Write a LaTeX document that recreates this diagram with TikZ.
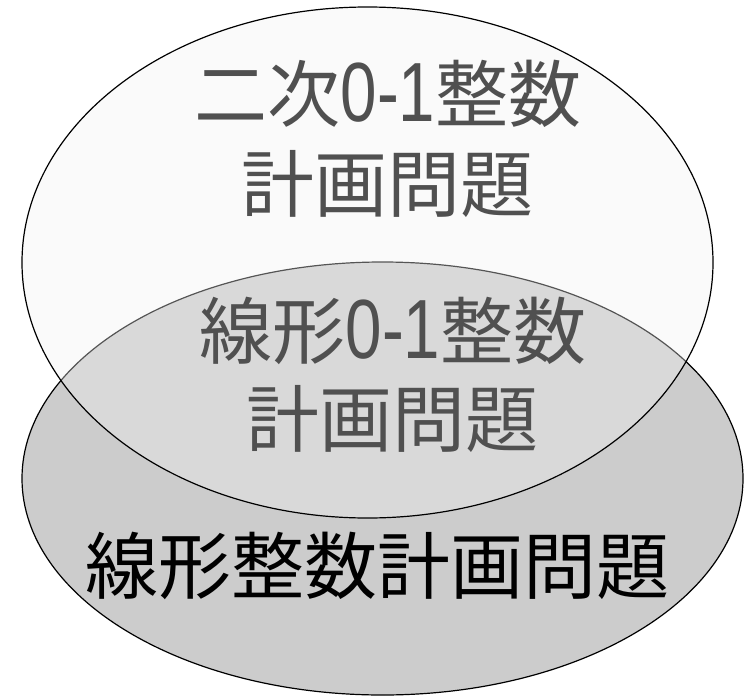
\documentclass[tikz,border=0pt]{standalone}
\usepackage{fontspec}
\usetikzlibrary{shapes.geometric}
\newfontfamily\jp{Noto Sans CJK JP}
\newfontfamily\latn[FakeStretch=0.78]{Liberation Sans}
\definecolor{txtgray}{RGB}{80,80,80}
\definecolor{setfillB}{RGB}{204,204,204}
\definecolor{setfillA}{RGB}{241,241,241}
\newcommand{\dig}[1]{{\latn\fontsize{84pt}{84pt}\selectfont #1}}
\tikzset{
  setshape/.style={ellipse, draw=black, line width=1.2pt, inner sep=0pt, outer sep=0pt},
  lbl/.style={anchor=base, inner sep=0pt, font=\jp\fontsize{73pt}{73pt}\selectfont}
}
\begin{document}
\begin{tikzpicture}[x=1pt,y=-1pt]
\useasboundingbox (0,0) rectangle (747,696);
\node[setshape, fill=setfillB, minimum width=721pt, minimum height=433pt] (setB) at (382.5,478.5) {};
\node[setshape, fill=setfillA, fill opacity=0.353, minimum width=691pt, minimum height=511pt] (setA) at (367.5,262.5) {};
\node[lbl, text=txtgray] (a1) at (388,121) {二次\dig{0-1}整数};
\node[lbl, text=txtgray] (a2) at (387,211) {計画問題};
\node[lbl, text=txtgray] (b1) at (393,358) {線形\dig{0-1}整数};
\node[lbl, text=txtgray] (b2) at (392,446) {計画問題};
\node[lbl, text=black] (c1) at (377.5,593) {線形整数計画問題};
\end{tikzpicture}
\end{document}
